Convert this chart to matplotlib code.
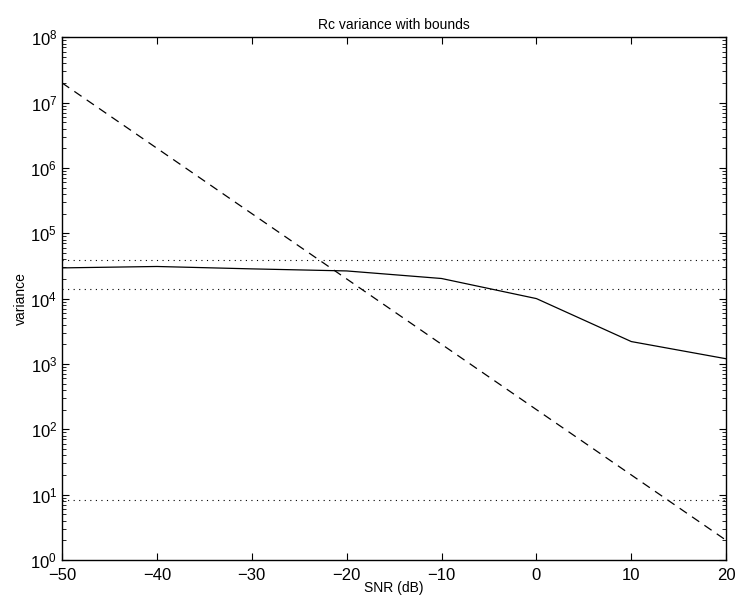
import numpy as np
import matplotlib.pyplot as plt

plt.rcParams['font.family'] = ['Liberation Sans', 'DejaVu Sans']

snr = [-50, -40, -30, -20, -10, 0, 10, 20]
rc_var = [2.95e4, 3.1e4, 2.85e4, 2.65e4, 2.03e4, 1.0e4, 2.2e3, 1.2e3]
crb = [2e7, 2e6, 2e5, 2e4, 2e3, 2e2, 2e1, 2e0]
bounds = [3.9e4, 1.4e4, 8.3]

fig = plt.figure(figsize=(7.38, 6.1), dpi=100)
ax = fig.add_axes([0.084, 0.082, 0.9, 0.857])

ax.semilogy(snr, rc_var, color='k', lw=0.9)
ax.semilogy(snr, crb, color='k', lw=0.9, linestyle=(0, (7, 5)))
for b in bounds:
    ax.axhline(b, color='k', lw=0.8, linestyle=(0, (1, 4)))

ax.set_xlim(-50, 20)
ax.set_ylim(1, 1e8)
ax.set_yticks([10.0**k for k in range(9)])
ax.set_xticks(range(-50, 21, 10))
ax.set_xticklabels(['\u221250', '\u221240', '\u221230', '\u221220', '\u221210', '0', '10', '20'])
ax.tick_params(which='both', direction='in', top=True, right=True, labelsize=12)
ax.tick_params(which='major', length=5)
ax.tick_params(which='minor', length=3)
ax.tick_params(axis='x', pad=6)
for s in ax.spines.values():
    s.set_linewidth(1.0)

ax.set_xlabel('SNR (dB)', fontsize=10, labelpad=-2)
ax.set_ylabel('variance', fontsize=10, labelpad=2)
ax.set_title('Rc variance with bounds', fontsize=10, pad=6)

fig.savefig('out.png', dpi=100)
